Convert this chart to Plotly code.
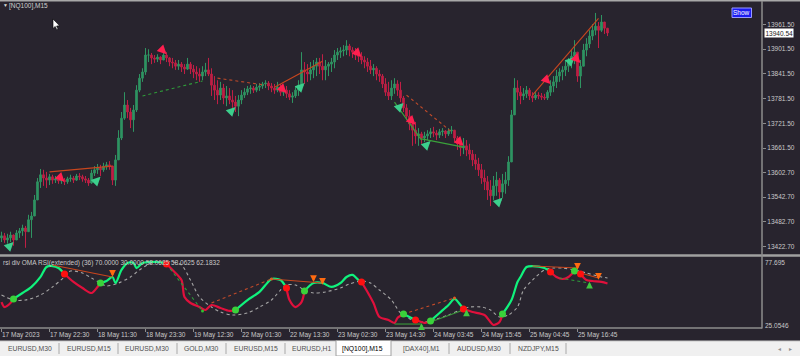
import plotly.graph_objects as go

# ---------------- data ----------------
# price bars: one entry per 45 min (3 x M15 bars)
first_open = 13444
highs = [13459, 13456, 13454, 13459, 13452, 13463, 13468, 13476, 13473, 13500, 13507, 13548, 13589, 13611,
         13609, 13604, 13599, 13597, 13594, 13592, 13594, 13589, 13592, 13597, 13594, 13599, 13601, 13597, 13594,
         13589, 13609, 13618, 13623, 13621, 13626, 13628, 13630, 13618, 13645,
         13705, 13749, 13797, 13778, 13759, 13766, 13814, 13841, 13855, 13904,
         13901, 13892, 13887, 13889, 13884, 13894, 13894, 13882, 13880, 13875, 13875, 13870, 13865, 13880, 13870,
         13863, 13860, 13855, 13860, 13868, 13880,
         13855, 13836, 13826, 13822, 13817, 13812, 13807, 13802, 13788, 13790, 13802, 13807, 13812, 13814, 13812,
         13817, 13819, 13822, 13826, 13824, 13819, 13817, 13822, 13817, 13812, 13812, 13802, 13797, 13812, 13826,
         13894, 13870, 13865, 13870, 13875, 13880, 13880, 13889, 13875, 13870, 13880, 13899, 13904, 13906, 13911,
         13923,
         13914, 13906, 13904, 13899, 13894, 13884, 13880, 13875, 13865, 13860, 13851, 13841, 13831, 13822, 13826,
         13831, 13826, 13822, 13788, 13768, 13754, 13734, 13725, 13710, 13701, 13701, 13705, 13710, 13713, 13705,
         13708, 13710, 13705, 13710, 13715, 13705, 13691, 13681, 13686, 13681, 13672, 13657, 13647, 13638, 13623,
         13609, 13594, 13584, 13594, 13604, 13589, 13599, 13604, 13642, 13754, 13831, 13826, 13812,
         13807, 13812, 13807, 13797, 13797, 13797, 13795, 13793, 13802, 13826, 13836, 13851, 13855, 13860, 13875,
         13880, 13899, 13923, 13894, 13875, 13914, 13928, 13947, 13962, 13989, 13967, 13984, 13967, 13952]
lows = [13434, 13432, 13430, 13434, 13425, 13439, 13444, 13449, 13420, 13459, 13444, 13497, 13536, 13565,
        13570, 13565, 13572, 13575, 13577, 13575, 13575, 13572, 13575, 13580, 13577, 13582, 13584, 13580, 13577,
        13570, 13575, 13594, 13599, 13594, 13604, 13609, 13609, 13572, 13570,
        13633, 13681, 13730, 13734, 13710, 13701, 13749, 13797, 13822, 13839,
        13870, 13865, 13868, 13870, 13865, 13875, 13870, 13860, 13855, 13851, 13851, 13846, 13841, 13851, 13841,
        13831, 13826, 13822, 13826, 13836, 13836,
        13788, 13778, 13768, 13778, 13768, 13763, 13768, 13759, 13749, 13739, 13768, 13783, 13790, 13793, 13795,
        13797, 13800, 13805, 13807, 13802, 13797, 13793, 13797, 13788, 13788, 13783, 13778, 13771, 13783, 13788,
        13807, 13817, 13822, 13826, 13831, 13836, 13841, 13826, 13826, 13836, 13846, 13855, 13875, 13880, 13884,
        13887,
        13884, 13880, 13875, 13870, 13865, 13855, 13846, 13841, 13836, 13826, 13822, 13807, 13788, 13778, 13778,
        13793, 13788, 13773, 13749, 13730, 13705, 13667, 13672, 13667, 13672, 13676, 13681, 13686, 13688, 13681,
        13686, 13691, 13686, 13691, 13696, 13676, 13657, 13642, 13647, 13642, 13633, 13618, 13609, 13594, 13575,
        13560, 13536, 13521, 13536, 13546, 13536, 13541, 13551, 13570, 13628, 13742, 13778, 13768,
        13778, 13783, 13778, 13773, 13778, 13780, 13778, 13778, 13778, 13788, 13797, 13807, 13822, 13826, 13836,
        13846, 13855, 13865, 13822, 13807, 13860, 13884, 13904, 13923, 13935, 13904, 13943, 13938, 13933]
closes = [13449, 13439, 13444, 13451, 13439, 13456, 13461, 13468, 13459, 13488, 13497, 13536, 13580, 13597,
          13589, 13584, 13592, 13584, 13587, 13582, 13584, 13580, 13587, 13589, 13584, 13594, 13592, 13587, 13584,
          13577, 13601, 13609, 13613, 13609, 13618, 13621, 13618, 13584, 13633,
          13686, 13734, 13766, 13749, 13730, 13754, 13802, 13831, 13846, 13887,
          13887, 13880, 13877, 13882, 13875, 13887, 13880, 13870, 13868, 13860, 13865, 13858, 13853, 13865, 13853,
          13846, 13841, 13836, 13846, 13851, 13841,
          13814, 13802, 13790, 13807, 13783, 13788, 13778, 13773, 13763, 13778, 13790, 13797, 13805, 13807, 13802,
          13809, 13812, 13817, 13819, 13812, 13807, 13802, 13809, 13797, 13802, 13793, 13785, 13788, 13802, 13814,
          13851, 13846, 13841, 13851, 13860, 13870, 13860, 13851, 13860, 13865, 13870, 13887, 13894, 13897, 13899,
          13909,
          13899, 13894, 13887, 13884, 13875, 13870, 13860, 13851, 13855, 13841, 13836, 13817, 13797, 13788, 13807,
          13817, 13802, 13783, 13759, 13739, 13720, 13705, 13691, 13696, 13686, 13691, 13696, 13701, 13698, 13693,
          13701, 13703, 13696, 13703, 13705, 13686, 13672, 13662, 13667, 13657, 13647, 13633, 13623, 13609, 13589,
          13580, 13560, 13546, 13570, 13584, 13555, 13575, 13584, 13628, 13742, 13807, 13797, 13788,
          13793, 13802, 13788, 13783, 13790, 13788, 13785, 13783, 13797, 13812, 13822, 13836, 13846, 13851, 13860,
          13870, 13884, 13894, 13836, 13860, 13899, 13914, 13933, 13947, 13957, 13947, 13967, 13952, 13940.54]

last_price = 13940.54
price_ticks = [13961.5, 13901.5, 13841.5, 13781.5, 13721.5, 13661.5, 13602.7, 13542.7, 13482.7, 13422.7]

date_idx = [0, 16, 32, 48, 64, 80, 96, 112, 128, 144, 160, 176, 192]
date_labels = ["17 May 2023", "17 May 22:30", "18 May 11:30", "18 May 23:30", "19 May 12:30",
               "22 May 01:30", "22 May 13:30", "23 May 02:30", "23 May 14:30", "24 May 03:45",
               "24 May 15:45", "25 May 04:45", "25 May 16:45"]

# arrows on the price chart
buy_idx = [4, 33, 78, 101, 134, 143, 167, 191]
buy_price = [13434, 13592, 13761, 13819, 13771, 13679, 13541, 13882]
sell_idx = [21, 55, 95, 120, 138, 154, 183, 193]
sell_price = [13580, 13889, 13795, 13882, 13718, 13667, 13817, 13868]

# divergence lines on the price chart (x0, p0, x1, p1)
main_solid_orange = [(16, 13604, 37, 13618), (91, 13809, 107, 13872), (177, 13790, 199, 13976)]
main_dot_green = [(47, 13788, 67, 13824)]
main_dot_red = [(72, 13831, 88, 13814), (135, 13790, 150, 13701)]
main_solid_green = [(131, 13773, 140, 13681), (140, 13684, 154, 13664)]

# indicator: RSI line, signal line
ind_min, ind_max = 25.0546, 77.695
rsi_idx = [0, 1, 3, 4, 7, 10, 13, 15, 17, 19, 21, 24, 27, 30, 32, 33, 35, 37, 38, 40,
           42, 44, 45, 47, 49, 52, 54, 55, 57, 60, 61, 63, 66, 68, 70, 73, 76, 78, 82, 86,
           88, 90, 93, 95, 96, 98, 100, 101, 104, 107, 110, 113, 115, 117, 119, 120, 122, 124, 126, 129,
           131, 132, 134, 136, 138, 140, 141, 143, 146, 149, 151, 153, 154, 157, 161, 164, 166, 167, 170, 172,
           173, 175, 177, 181, 183, 185, 187, 189, 191, 193, 195, 197, 200, 202]
rsi_val = [44.3, 40.6, 43.6, 46.6, 51.0, 55.5, 62.9, 70.3, 71.0, 69.5, 65.1, 59.2, 54.7, 51.0, 55.5, 58.4, 59.9, 62.9, 58.4, 68.1,
           73.3, 73.3, 69.5, 73.3, 74.0, 74.0, 73.3, 72.5, 68.1, 60.6, 48.0, 43.6, 40.6, 38.4, 42.1, 39.9, 37.7, 38.4, 45.8, 51.8,
           56.9, 61.4, 60.6, 54.7, 45.8, 40.6, 44.3, 52.5, 58.4, 58.4, 55.5, 58.4, 62.9, 64.4, 60.6, 59.2, 51.8, 43.6, 33.2, 31.0,
           28.8, 32.5, 35.4, 33.2, 31.0, 29.5, 28.8, 30.3, 36.2, 42.1, 46.6, 42.1, 39.1, 36.9, 34.7, 27.3, 29.5, 35.4, 45.8, 59.2,
           62.9, 70.3, 71.0, 69.5, 66.6, 62.9, 61.4, 62.9, 67.3, 65.1, 60.6, 59.9, 59.2, 58.0625]
sig_idx = [0, 4, 8, 13, 17, 21, 23, 27, 30, 33, 35, 39, 43, 46, 50, 53, 57, 60, 63, 66,
           70, 73, 77, 82, 86, 90, 93, 95, 98, 101, 104, 108, 113, 116, 120, 123, 126, 130, 133, 137,
           141, 145, 149, 153, 156, 160, 163, 166, 169, 172, 174, 177, 181, 184, 187, 191, 195, 200, 202]
sig_val = [49.5, 45.8, 45.8, 49.5, 55.5, 62.9, 67.3, 65.8, 62.1, 58.4, 56.2, 58.4, 62.9, 68.1, 73.3, 74.0, 74.0, 71.8, 60.6, 48.0,
           40.6, 36.9, 34.7, 36.2, 40.6, 45.8, 53.2, 56.9, 56.9, 53.2, 51.0, 51.8, 54.7, 57.7, 59.9, 58.4, 53.2, 45.8, 36.2, 31.0,
           29.5, 31.7, 34.7, 38.4, 40.6, 40.6, 38.4, 33.2, 34.7, 40.6, 53.2, 60.6, 68.1, 69.5, 69.5, 68.1, 65.8, 62.9, 62.1832]

# indicator divergence lines and arrows
ind_solid_orange = [(17, 71.8, 37, 62.9), (90, 61.4, 107, 58.4), (177, 71.0, 192, 69.5), (193, 65.8, 199, 62.1)]
ind_dot_orange = [(70, 43.6, 90, 61.4), (134, 35.4, 151, 47.3)]
ind_solid_green = [(131, 28.0, 140, 28.0), (143, 29.5, 154, 38.4)]
ind_dot_green = [(55, 72.5, 67, 37.7), (186, 62.1, 196, 58.4)]
ind_down_idx = [37, 104, 107, 192, 199]
ind_down_val = [63.0, 59.2, 57.2, 68.2, 60.8]
ind_up_idx = [140, 155, 196]
ind_up_val = [28.5, 38.8, 59.4]

tabs = ["EURUSD,M30", "EURUSD,M15", "EURUSD,M30", "GOLD,M30", "EURUSD,M15", "EURUSD,H1",
        "[NQ100],M15", "[DAX40],M1", "AUDUSD,M30", "NZDJPY,M15"]
active_tab = "[NQ100],M15"

# ---------------- style ----------------
W, H = 800, 356
ML, MR, MT, MB = 0, 38, 2, 28
PW, PH = W - ML - MR, H - MT - MB
BG = "#28242e"
TXT = "#c8c8c8"
AXC = "#8c8c8c"
FONT = "Liberation Sans"
GREEN_BAR, RED_BAR = "#2f9462", "#c01f45"
RSI_UP, RSI_DN = "#10f27c", "#e0103c"


def PX(x):
    return (x - ML) / PW


def PY(y):
    return (H - MB - y) / PH


n = len(closes)
assert len(highs) == n and len(lows) == n
xs = list(range(n))
opens = [first_open] + closes[:-1]

fig = go.Figure()

# candles
fig.add_trace(go.Candlestick(
    x=xs, open=opens, high=highs, low=lows, close=closes, xaxis="x", yaxis="y",
    increasing=dict(line=dict(color=GREEN_BAR, width=1), fillcolor=GREEN_BAR),
    decreasing=dict(line=dict(color=RED_BAR, width=1), fillcolor=RED_BAR),
    whiskerwidth=0, hoverinfo="skip"))


def seg_xy(segs):
    sx, sy = [], []
    for x0, y0, x1, y1 in segs:
        sx += [x0, x1, None]
        sy += [y0, y1, None]
    return sx, sy


def add_lines(segs, color, dash, width, ax, ay):
    sx, sy = seg_xy(segs)
    fig.add_trace(go.Scatter(x=sx, y=sy, mode="lines", xaxis=ax, yaxis=ay, hoverinfo="skip",
                             line=dict(color=color, width=width, dash=dash)))


add_lines(main_solid_orange, "#c8461e", "solid", 1.1, "x", "y")
add_lines(main_dot_green, "#2f9a3a", "dot", 1.1, "x", "y")
add_lines(main_dot_red, "#c04a2a", "dot", 1.1, "x", "y")
add_lines(main_solid_green, "#3aa23a", "solid", 1.1, "x", "y")

# indicator: signal dotted line
fig.add_trace(go.Scatter(x=sig_idx, y=sig_val, mode="lines", xaxis="x2", yaxis="y2", hoverinfo="skip",
                         line=dict(color="#a6a6a6", width=1.1, dash="dot", shape="spline", smoothing=0.8)))

# indicator: RSI line coloured by state between signal dots
dots = sorted([(i, "g") for i in buy_idx] + [(i, "r") for i in sell_idx])
bounds = [(rsi_idx[0], "r" if dots[0][1] == "g" else "g")] + dots + [(rsi_idx[-1], None)]
for k in range(len(bounds) - 1):
    a, state = bounds[k]
    b = bounds[k + 1][0]
    px_ = [i for i in rsi_idx if a <= i <= b]
    py_ = [rsi_val[rsi_idx.index(i)] for i in px_]
    fig.add_trace(go.Scatter(x=px_, y=py_, mode="lines", xaxis="x2", yaxis="y2", hoverinfo="skip",
                             line=dict(color=RSI_UP if state == "g" else RSI_DN, width=2.2,
                                       shape="spline", smoothing=0.8)))

add_lines(ind_solid_orange, "#c8461e", "solid", 1.1, "x2", "y2")
add_lines(ind_dot_orange, "#c04a2a", "dot", 1.1, "x2", "y2")
add_lines(ind_solid_green, "#3a9a3a", "solid", 1.1, "x2", "y2")
add_lines(ind_dot_green, "#2f9a3a", "dot", 1.1, "x2", "y2")

fig.add_trace(go.Scatter(x=[s[2] for s in ind_dot_orange], y=[s[3] for s in ind_dot_orange], mode="markers",
                         xaxis="x2", yaxis="y2", hoverinfo="skip", marker=dict(size=3, color="#e05a20")))
fig.add_trace(go.Scatter(x=[ind_dot_green[0][2]], y=[ind_dot_green[0][3]], mode="markers",
                         xaxis="x2", yaxis="y2", hoverinfo="skip", marker=dict(size=3, color="#30c030")))

gi = [rsi_val[rsi_idx.index(i)] for i in buy_idx]
ri = [rsi_val[rsi_idx.index(i)] for i in sell_idx]
fig.add_trace(go.Scatter(x=buy_idx, y=gi, mode="markers", xaxis="x2", yaxis="y2", hoverinfo="skip",
                         marker=dict(size=7, color="#3ad23a", line=dict(width=0))))
fig.add_trace(go.Scatter(x=sell_idx, y=ri, mode="markers", xaxis="x2", yaxis="y2", hoverinfo="skip",
                         marker=dict(size=7, color="#ff1010", line=dict(width=0))))

# ---------------- layout ----------------
xr = [-0.5, PW / 3 - 0.5]
tickfont = dict(family=FONT, size=6.5, color=TXT)
fig.update_layout(
    width=W, height=H, margin=dict(l=ML, r=MR, t=MT, b=MB),
    paper_bgcolor=BG, plot_bgcolor=BG, showlegend=False, boxgap=0.25, hovermode=False,
    xaxis=dict(domain=[0, 1], range=xr, anchor="y", showticklabels=False, showgrid=False,
               zeroline=False, rangeslider=dict(visible=False), ticks=""),
    yaxis=dict(domain=[PY(254), 1], range=[13405, 14015.5], side="right", anchor="x",
               tickvals=price_ticks, ticktext=["%.2f" % v for v in price_ticks],
               ticks="outside", ticklen=3, tickcolor=AXC, tickwidth=1, showgrid=False, zeroline=False,
               showline=False, tickfont=tickfont),
    xaxis2=dict(domain=[0, 1], range=xr, anchor="y2", matches="x", tickvals=date_idx, ticktext=date_labels,
                ticks="outside", ticklen=3, tickcolor=AXC, showgrid=False, zeroline=False, tickangle=0,
                ticklabelposition="outside right", tickfont=tickfont),
    yaxis2=dict(domain=[0, PY(257)], range=[ind_min, ind_max], side="right", anchor="x2",
                showticklabels=False, showgrid=False, zeroline=False, ticks=""),
)

shapes = []
# frame lines
shapes.append(dict(type="line", xref="paper", yref="paper", x0=PX(0), x1=PX(W), y0=PY(0.7), y1=PY(0.7),
                   line=dict(color="#a8a8a8", width=1.5)))
shapes.append(dict(type="line", xref="paper", yref="paper", x0=PX(0), x1=PX(W), y0=PY(255.5), y1=PY(255.5),
                   line=dict(color="#a0a0a0", width=2.5)))
shapes.append(dict(type="line", xref="paper", yref="paper", x0=1, x1=1, y0=PY(1), y1=PY(328.5),
                   line=dict(color=AXC, width=1.5)))
shapes.append(dict(type="line", xref="paper", yref="paper", x0=PX(0), x1=1, y0=PY(328), y1=PY(328),
                   line=dict(color=AXC, width=1.5)))
# tab bar
shapes.append(dict(type="rect", xref="paper", yref="paper", x0=PX(0), x1=PX(W), y0=PY(341), y1=PY(357),
                   fillcolor="#f0f0f0", line=dict(width=0)))
shapes.append(dict(type="line", xref="paper", yref="paper", x0=PX(0), x1=PX(W), y0=PY(341), y1=PY(341),
                   line=dict(color="#c8c8c8", width=1)))
shapes.append(dict(type="rect", xref="paper", yref="paper", x0=PX(336), x1=PX(391), y0=PY(340.5), y1=PY(356),
                   fillcolor="#ffffff", line=dict(color="#a0a0a0", width=1)))
for sx in [59, 118, 177, 226, 285, 449, 510, 566]:
    shapes.append(dict(type="line", xref="paper", yref="paper", x0=PX(sx), x1=PX(sx), y0=PY(343), y1=PY(354),
                       line=dict(color="#a8a8a8", width=1)))
# Show button
shapes.append(dict(type="rect", xref="paper", yref="paper", x0=PX(732), x1=PX(751.5), y0=PY(8), y1=PY(17.5),
                   fillcolor="#1c1cf0", line=dict(color="#9a9aff", width=1)))
# mouse cursor
cur = [(53, 19), (53, 28.5), (55.2, 26.4), (56.8, 29.8), (58.1, 29.2), (56.6, 26), (59.6, 25.8)]
path = "M " + " L ".join("%f,%f" % (PX(a), PY(b)) for a, b in cur) + " Z"
shapes.append(dict(type="path", xref="paper", yref="paper", path=path, fillcolor="#ffffff",
                   line=dict(color="#000000", width=0.6)))
fig.update_layout(shapes=shapes)

ann = []


def note(text, x, y, xa="left", ya="middle", size=6.5, color=TXT, **kw):
    ann.append(dict(text=text, xref="paper", yref="paper", x=PX(x), y=PY(y), xanchor=xa, yanchor=ya,
                    showarrow=False, font=dict(family=FONT, size=size, color=color), borderpad=0, **kw))


def arrow(xv, yv, xr_, yr_, dx, dy, color, width, head=2, size=1.0):
    ann.append(dict(x=xv, y=yv, xref=xr_, yref=yr_, text="", showarrow=True, ax=dx, ay=dy,
                    arrowhead=head, arrowsize=size, arrowwidth=width, arrowcolor=color, standoff=0))


# trade arrows on price chart (thick MT4-style arrows)
for i, p in zip(buy_idx, buy_price):
    arrow(i, p, "x", "y", -6, 6, "#3ccf8c", 2.3, size=0.8)
for i, p in zip(sell_idx, sell_price):
    arrow(i, p, "x", "y", -6, -6, "#ff1f4f", 2.3, size=0.8)
# indicator divergence arrows
for i, v in zip(ind_down_idx, ind_down_val):
    arrow(i, v, "x2", "y2", 0, -6, "#ff6a10", 1.8, size=0.75)
for i, v in zip(ind_up_idx, ind_up_val):
    arrow(i, v, "x2", "y2", 0, 6, "#40c840", 1.8, size=0.75)

note("▼", 1.5, 5, size=5, color="#d8d8d8")
note("[NQ100],M15", 8, 5.5, color="#d0d0d0")
note("Show", 741.8, 12.8, xa="center", size=6.5, color="#ffffff")
note("rsi div OMA RSI(extended) (36) 70.0000 30.0000 58.0625 58.0625 62.1832", 1.5, 262.5)
note("77.695", 764, 262)
note("25.0546", 764, 325)
ann.append(dict(text="13940.54", xref="paper", yref="y", x=PX(763.5), y=last_price, xanchor="left",
                yanchor="middle", showarrow=False, bgcolor="#ffffff", borderpad=0.5,
                font=dict(family=FONT, size=6.5, color="#202020")))

tab_x = [7, 66, 124, 183, 233, 291, 341, 402, 456, 517]
for t, tx in zip(tabs, tab_x):
    note(t, tx, 348.5, size=6.8, color="#000000" if t == active_tab else "#505050")
note("◄", 779, 348.5, xa="center", size=5, color="#909090")
note("►", 790, 348.5, xa="center", size=5, color="#909090")
fig.update_layout(annotations=ann)

fig.write_html("out.html", config={"displayModeBar": False, "staticPlot": True},
               post_script="document.body.style.margin='0px';document.body.style.overflow='hidden';")
